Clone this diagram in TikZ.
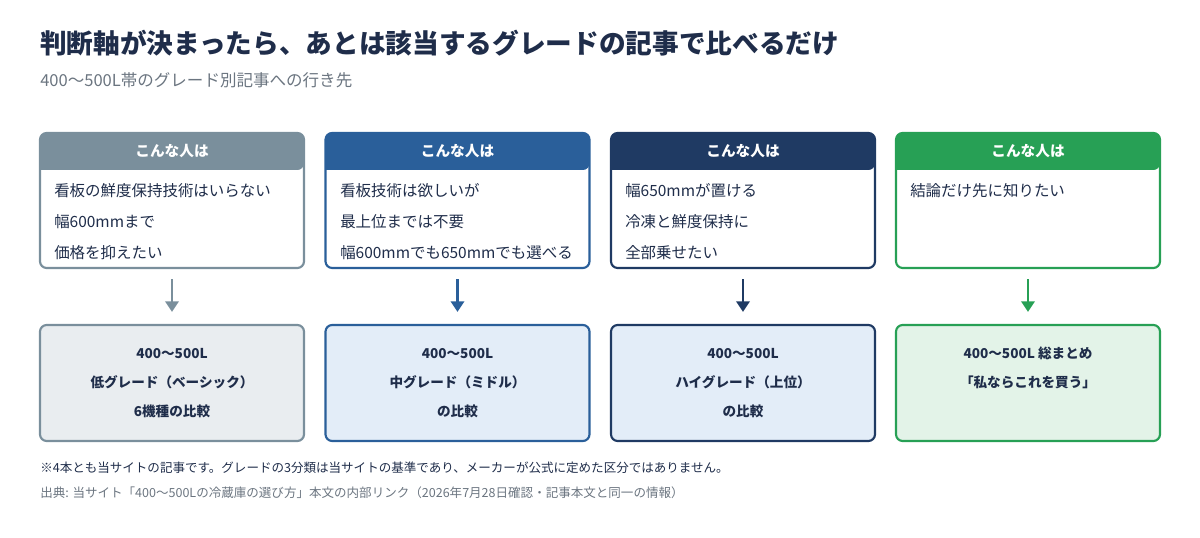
\documentclass[tikz,border=0pt]{standalone}
\usepackage{fontspec}
\setmainfont{Noto Sans CJK JP}
\usetikzlibrary{arrows.meta}
\definecolor{cg}{HTML}{7A8F9C}\definecolor{cb}{HTML}{2A5F9A}\definecolor{cn}{HTML}{1F3A63}\definecolor{cgr}{HTML}{27A055}
\definecolor{lg}{HTML}{E9EDF0}\definecolor{lb}{HTML}{E3EDF8}\definecolor{lgr}{HTML}{E3F3E8}
\definecolor{tx}{HTML}{1F2D4A}\definecolor{sub}{HTML}{6B7580}
\begin{document}
\begin{tikzpicture}[x=0.75pt,y=-0.75pt,
 body/.style={draw=#1,line width=1.6pt,rounded corners=5pt,fill=white,minimum width=198pt,minimum height=101.25pt,inner sep=0pt},
 res/.style={draw=#1,line width=1.6pt,rounded corners=5pt,minimum width=198pt,minimum height=87pt},
 rtxt/.style={align=center,text=tx,font=\bfseries\fontsize{10.2}{22}\selectfont},
 btxt/.style={anchor=west,align=left,font=\fontsize{11.6}{23.25}\selectfont,text=tx,inner sep=0pt},
 htxt/.style={text=white,font=\bfseries\fontsize{11}{13}\selectfont},
 arr/.style={draw=#1,line width=2.2pt,-{Triangle[width=10pt,length=8pt]},shorten <=7.5pt,shorten >=9pt}]
\useasboundingbox (0,0) rectangle (1200,538);
\node[anchor=west,inner sep=0pt,text=tx,font=\bfseries\fontsize{20}{24}\selectfont] (title) at (40,43) {判断軸が決まったら、あとは該当するグレードの記事で比べるだけ};
\node[anchor=west,inner sep=0pt,text=sub,font=\fontsize{12.4}{14}\selectfont] (subt) at (40,80) {400〜500L帯のグレード別記事への行き先};
\foreach \i/\x/\c/\l in {1/172/cg/lg,2/457.5/cb/lb,3/743/cn/lb,4/1028/cgr/lgr}{
 \node[body=\c] (b\i) at (\x,200.5) {};
 \fill[\c,rounded corners=5pt] (\x-132,170) -- (\x-132,133) -- (\x+132,133) -- (\x+132,170) [sharp corners]-- cycle;
 \node[htxt] (h\i) at (\x,151.5) {こんな人は};
 \node[res=\c,fill=\l] (r\i) at (\x,383) {};
 \draw[arr=\c] (b\i.south) -- (r\i.north);
}
\node[btxt,anchor=north west] (t1) at (54,183) {看板の鮮度保持技術はいらない\\幅600mmまで\\価格を抑えたい};
\node[btxt,anchor=north west] (t2) at (340,183) {看板技術は欲しいが\\最上位までは不要\\幅600mmでも650mmでも選べる};
\node[btxt,anchor=north west] (t3) at (625,183) {幅650mmが置ける\\冷凍と鮮度保持に\\全部乗せたい};
\node[btxt,anchor=north west] (t4) at (910,183) {結論だけ先に知りたい};
\node[rtxt] (u1) at (r1) {400〜500L\\低グレード（ベーシック）\\6機種の比較};
\node[rtxt] (u2) at (r2) {400〜500L\\中グレード（ミドル）\\の比較};
\node[rtxt] (u3) at (r3) {400〜500L\\ハイグレード（上位）\\の比較};
\node[rtxt] (u4) at (1028,368) {400〜500L 総まとめ\\「私ならこれを買う」};
\node[anchor=west,inner sep=0pt,text=tx,font=\fontsize{9.4}{11}\selectfont] (n1) at (40,468) {※4本とも当サイトの記事です。グレードの3分類は当サイトの基準であり、メーカーが公式に定めた区分ではありません。};
\node[anchor=west,inner sep=0pt,text=sub,font=\fontsize{9.4}{11}\selectfont] (n2) at (40,493) {出典: 当サイト「400〜500Lの冷蔵庫の選び方」本文の内部リンク（2026年7月28日確認・記事本文と同一の情報）};
\end{tikzpicture}
\end{document}
